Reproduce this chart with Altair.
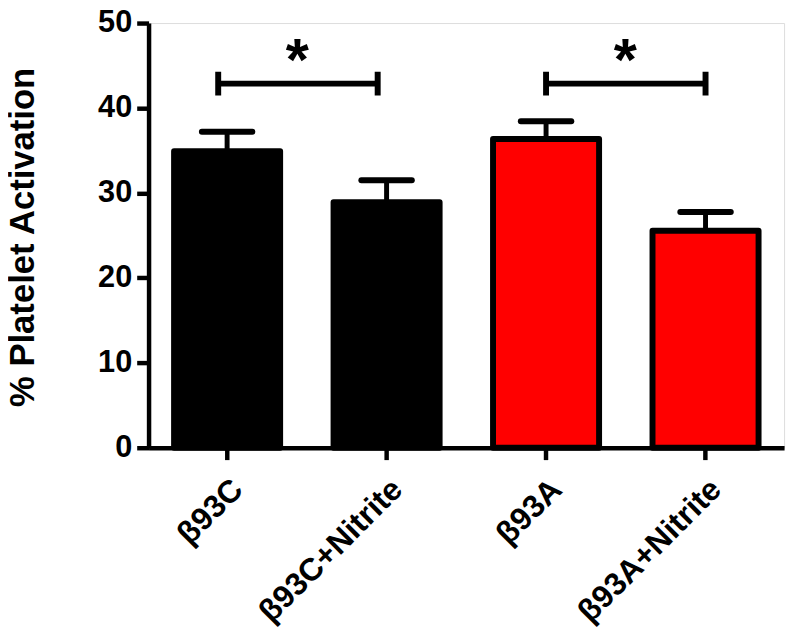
import altair as alt
import pandas as pd

categories = ["β93C", "β93C+Nitrite", "β93A", "β93A+Nitrite"]
means = [34.9, 28.9, 36.35, 25.55]
upper = [37.2, 31.5, 38.45, 27.75]
bar_colors = ["#000000", "#000000", "#ff0000", "#ff0000"]

bracket_start = ["β93C", "β93A"]
bracket_end = ["β93C+Nitrite", "β93A+Nitrite"]
bracket_y = [42.87, 42.87]
bracket_text = ["*", "*"]
y_ticks = [0, 10, 20, 30, 40, 50]

FONT = "Liberation Sans"

bars_df = pd.DataFrame({"cat": categories, "mean": means, "upper": upper, "color": bar_colors})

xscale = alt.Scale(domain=categories, paddingInner=0.335, paddingOuter=0.16)
yscale = alt.Scale(domain=[0, 50], nice=False, zero=True)

x_axis = alt.Axis(
    title=None, domainColor="black", domainWidth=4.5, tickColor="black", tickWidth=4.5,
    tickSize=12, labelAngle=-45, labelAlign="right", labelBaseline="top", labelFont=FONT,
    labelFontSize=32, labelFontWeight="bold", labelColor="black", labelPadding=14,
    labelLimit=500, grid=False,
)
y_axis = alt.Axis(
    title="% Platelet Activation", values=y_ticks, domainColor="black", domainWidth=4.5,
    tickColor="black", tickWidth=4.5, tickSize=12, labelFont=FONT, labelFontSize=31,
    labelFontWeight="bold", labelColor="black", labelPadding=5, grid=False,
    titleFont=FONT, titleFontSize=35, titleFontWeight="bold", titleColor="black",
    titleX=-127, titleY=216, titleAngle=-90, titleAlign="center", titleBaseline="middle",
)

Xb = alt.X("cat:N", scale=xscale, sort=categories)

base = alt.Chart(bars_df)

bars = base.mark_bar(stroke="black", strokeWidth=6, strokeJoin="round").encode(
    x=Xb.axis(x_axis),
    y=alt.Y("mean:Q", scale=yscale, axis=y_axis),
    fill=alt.Fill("color:N", scale=None),
)

stems = base.mark_rule(color="black", strokeWidth=5).encode(
    x=alt.X("cat:N", scale=xscale, sort=categories, bandPosition=0.5),
    y="mean:Q",
    y2="upper:Q",
)

caps = base.mark_rule(color="black", strokeWidth=6, strokeCap="round", xOffset=-25.5, x2Offset=25.5).encode(
    x=alt.X("cat:N", scale=xscale, sort=categories, bandPosition=0.5),
    x2=alt.X2("cat:N", bandPosition=0.5),
    y="upper:Q",
)

layers = [bars, stems, caps]

shifts = [-9, 0]
for i in range(len(bracket_start)):
    bdf = pd.DataFrame({
        "cat": [bracket_start[i]], "cat2": [bracket_end[i]],
        "y": [bracket_y[i]], "label": [bracket_text[i]],
    })
    bb = alt.Chart(bdf)
    s = shifts[i]
    hline = bb.mark_rule(color="black", strokeWidth=6, xOffset=s, x2Offset=s).encode(
        x=alt.X("cat:N", scale=xscale, sort=categories, bandPosition=0.5),
        x2=alt.X2("cat2:N", bandPosition=0.5),
        y="y:Q",
    )
    left_tick = bb.mark_rule(color="black", strokeWidth=6, xOffset=s, yOffset=-12, y2Offset=12).encode(
        x=alt.X("cat:N", scale=xscale, sort=categories, bandPosition=0.5),
        y="y:Q",
        y2="y:Q",
    )
    right_tick = bb.mark_rule(color="black", strokeWidth=6, xOffset=s, yOffset=-12, y2Offset=12).encode(
        x=alt.X("cat2:N", scale=xscale, sort=categories, bandPosition=0.5),
        y="y:Q",
        y2="y:Q",
    )
    star = bb.mark_text(font=FONT, fontSize=60, fontWeight="bold", color="black",
                        baseline="alphabetic", align="center", dy=-4, xOffset=s + 80).encode(
        x=alt.X("cat:N", scale=xscale, sort=categories, bandPosition=0.5),
        y="y:Q",
        text="label:N",
    )
    layers += [hline, left_tick, right_tick, star]

chart = alt.layer(*layers).properties(
    width=642, height=429,
    autosize=alt.AutoSizeParams(type="none"),
    padding={"left": 142, "top": 12, "right": 8, "bottom": 190},
).configure_view(stroke=None).configure(background="white")

chart.save("out.html", embed_options={"renderer": "svg", "actions": False})
